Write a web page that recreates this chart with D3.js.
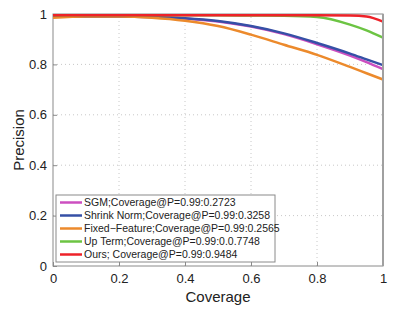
<!DOCTYPE html>
<html>
<head>
<meta charset="utf-8">
<script src="https://cdn.jsdelivr.net/npm/d3@7"></script>
<style>
  body { margin: 0; background: #fff; }
  text { font-family: "Liberation Sans", Arial, sans-serif; fill: #222; }
</style>
</head>
<body>
<div id="chart"></div>
<script>
var coverage = [0, 0.1, 0.2, 0.3, 0.4, 0.5, 0.6, 0.7, 0.8, 0.9, 0.95, 1];
var sgm      = [0.99, 0.99, 0.99, 0.988, 0.982, 0.970, 0.950, 0.920, 0.880, 0.835, 0.809, 0.781];
var shrink   = [0.99, 0.99, 0.99, 0.988, 0.983, 0.972, 0.952, 0.923, 0.885, 0.843, 0.820, 0.797];
var fixed    = [0.985, 0.99, 0.99, 0.985, 0.973, 0.952, 0.918, 0.878, 0.838, 0.790, 0.765, 0.740];
var upTerm   = [0.995, 0.995, 0.995, 0.995, 0.995, 0.995, 0.994, 0.993, 0.988, 0.958, 0.935, 0.906];
var ours     = [0.995, 0.995, 0.995, 0.995, 0.995, 0.995, 0.995, 0.995, 0.995, 0.994, 0.990, 0.970];

var names = [
  "SGM;Coverage@P=0.99:0.2723",
  "Shrink Norm;Coverage@P=0.99:0.3258",
  "Fixed\u2212Feature;Coverage@P=0.99:0.2565",
  "Up Term;Coverage@P=0.99:0.0.7748",
  "Ours; Coverage@P=0.99:0.9484"
];
var colors = ["#cc4fc0", "#3650a6", "#ec8a2c", "#6cc443", "#ee2229"];
var ticks = [0, 0.2, 0.4, 0.6, 0.8, 1];

var series = [sgm, shrink, fixed, upTerm, ours];

var svg = d3.select("#chart").append("svg")
    .attr("width", 407)
    .attr("height", 310);

var margin = {top: 14, right: 24, bottom: 44, left: 53};
var width = 407 - margin.left - margin.right,
    height = 310 - margin.top - margin.bottom;

var x = d3.scaleLinear().domain([0, 1]).range([margin.left, margin.left + width]);
var y = d3.scaleLinear().domain([0, 1]).range([margin.top + height, margin.top]);

// grid
svg.append("g").selectAll("line.gx")
    .data(ticks.slice(1, -1))
    .enter().append("line")
    .attr("x1", d => x(d)).attr("x2", d => x(d))
    .attr("y1", y(0)).attr("y2", y(1))
    .attr("stroke", "#c8c8c8").attr("stroke-dasharray", "1,3");
svg.append("g").selectAll("line.gy")
    .data(ticks.slice(1, -1))
    .enter().append("line")
    .attr("y1", d => y(d)).attr("y2", d => y(d))
    .attr("x1", x(0)).attr("x2", x(1))
    .attr("stroke", "#c8c8c8").attr("stroke-dasharray", "1,3");

// box
svg.append("rect")
    .attr("x", x(0)).attr("y", y(1))
    .attr("width", width).attr("height", height)
    .attr("fill", "none").attr("stroke", "#8a8a8a").attr("stroke-width", 1);

var xAxis = d3.axisBottom(x).tickValues(ticks).tickSize(-4).tickPadding(8)
    .tickFormat(d3.format(""));
var yAxis = d3.axisLeft(y).tickValues(ticks).tickSize(-4).tickPadding(6)
    .tickFormat(d3.format(""));

var gX = svg.append("g")
    .attr("transform", "translate(0," + y(0) + ")")
    .call(xAxis);
var gY = svg.append("g")
    .attr("transform", "translate(" + x(0) + ",0)")
    .call(yAxis);

[gX, gY].forEach(function (g) {
  g.select(".domain").remove();
  g.selectAll(".tick line").attr("stroke", "#8a8a8a");
  g.selectAll("text").style("font-size", "13px").attr("fill", "#222");
});

// lines
var line = d3.line()
    .x((d, i) => x(coverage[i]))
    .y(d => y(d))
    .curve(d3.curveMonotoneX);

svg.append("g").selectAll("path")
    .data(series)
    .enter().append("path")
    .attr("d", line)
    .attr("fill", "none")
    .attr("stroke", (d, i) => colors[i])
    .attr("stroke-width", 2.5);

// thick right edge like the original
svg.append("line")
    .attr("x1", x(1)).attr("x2", x(1))
    .attr("y1", y(1)).attr("y2", y(0))
    .attr("stroke", "#a0a0a0").attr("stroke-width", 2);

// axis labels
svg.append("text")
    .attr("x", x(0.5)).attr("y", 302)
    .attr("text-anchor", "middle")
    .style("font-size", "15px")
    .text("Coverage");
svg.append("text")
    .attr("transform", "translate(24," + y(0.5) + ") rotate(-90)")
    .attr("text-anchor", "middle")
    .style("font-size", "15px")
    .text("Precision");

// legend
var legend = svg.append("g");
legend.append("rect")
    .attr("x", 56).attr("y", 195)
    .attr("width", 219).attr("height", 67)
    .attr("fill", "#fff").attr("stroke", "#8a8a8a");

var row = legend.selectAll("g.row")
    .data(names)
    .enter().append("g")
    .attr("transform", (d, i) => "translate(0," + (202.5 + i * 13) + ")");
row.append("line")
    .attr("x1", 60).attr("x2", 82)
    .attr("stroke", (d, i) => colors[i]).attr("stroke-width", 2.5);
row.append("text")
    .attr("x", 84).attr("dy", "0.35em")
    .style("font-size", "10.5px")
    .text(d => d);
</script>
</body>
</html>
